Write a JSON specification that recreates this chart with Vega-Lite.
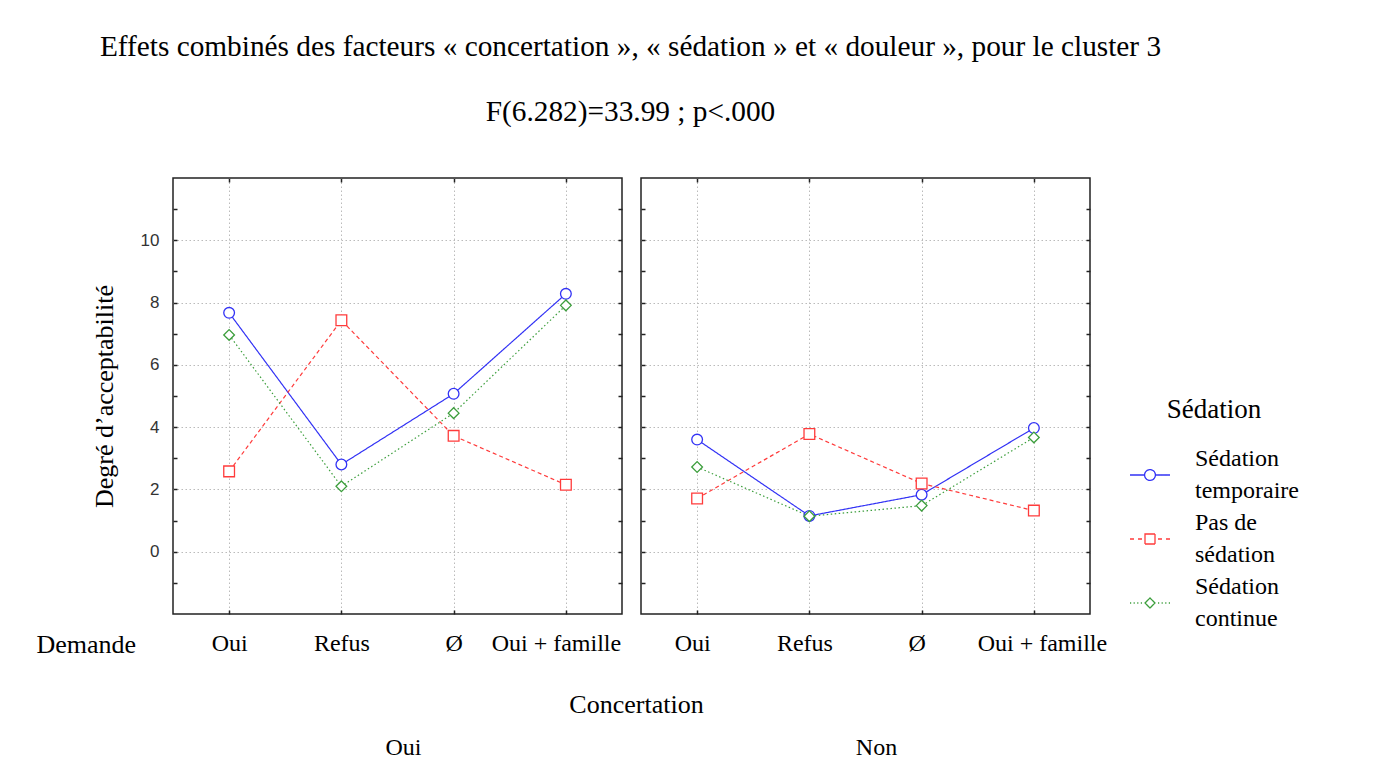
{
  "$schema": "https://vega.github.io/schema/vega-lite/v6.json",
  "padding": {"left": 35, "top": 32, "right": 5, "bottom": 5},
  "background": "white",
  "title": {
    "text": "Effets combinés des facteurs « concertation », « sédation » et « douleur », pour le cluster 3",
    "subtitle": "F(6.282)=33.99 ; p<.000",
    "font": "Liberation Serif", "fontSize": 29.3, "fontWeight": "normal", "color": "black",
    "subtitleFont": "Liberation Serif", "subtitleFontSize": 29.3, "subtitleColor": "black",
    "subtitlePadding": 36, "offset": 49, "anchor": "middle", "frame": "bounds", "dx": -37
  },
  "data": {"values": [
    {"Concertation": "Oui", "Demande": "Oui", "Sedation": "Sédation temporaire", "Degre": 7.67},
    {"Concertation": "Oui", "Demande": "Refus", "Sedation": "Sédation temporaire", "Degre": 2.8},
    {"Concertation": "Oui", "Demande": "Ø", "Sedation": "Sédation temporaire", "Degre": 5.07},
    {"Concertation": "Oui", "Demande": "Oui + famille", "Sedation": "Sédation temporaire", "Degre": 8.28},
    {"Concertation": "Oui", "Demande": "Oui", "Sedation": "Pas de sédation", "Degre": 2.58},
    {"Concertation": "Oui", "Demande": "Refus", "Sedation": "Pas de sédation", "Degre": 7.43},
    {"Concertation": "Oui", "Demande": "Ø", "Sedation": "Pas de sédation", "Degre": 3.72},
    {"Concertation": "Oui", "Demande": "Oui + famille", "Sedation": "Pas de sédation", "Degre": 2.15},
    {"Concertation": "Oui", "Demande": "Oui", "Sedation": "Sédation continue", "Degre": 6.96},
    {"Concertation": "Oui", "Demande": "Refus", "Sedation": "Sédation continue", "Degre": 2.1},
    {"Concertation": "Oui", "Demande": "Ø", "Sedation": "Sédation continue", "Degre": 4.45},
    {"Concertation": "Oui", "Demande": "Oui + famille", "Sedation": "Sédation continue", "Degre": 7.91},
    {"Concertation": "Non", "Demande": "Oui", "Sedation": "Sédation temporaire", "Degre": 3.6},
    {"Concertation": "Non", "Demande": "Refus", "Sedation": "Sédation temporaire", "Degre": 1.15},
    {"Concertation": "Non", "Demande": "Ø", "Sedation": "Sédation temporaire", "Degre": 1.83},
    {"Concertation": "Non", "Demande": "Oui + famille", "Sedation": "Sédation temporaire", "Degre": 3.97},
    {"Concertation": "Non", "Demande": "Oui", "Sedation": "Pas de sédation", "Degre": 1.71},
    {"Concertation": "Non", "Demande": "Refus", "Sedation": "Pas de sédation", "Degre": 3.78},
    {"Concertation": "Non", "Demande": "Ø", "Sedation": "Pas de sédation", "Degre": 2.19},
    {"Concertation": "Non", "Demande": "Oui + famille", "Sedation": "Pas de sédation", "Degre": 1.32},
    {"Concertation": "Non", "Demande": "Oui", "Sedation": "Sédation continue", "Degre": 2.72},
    {"Concertation": "Non", "Demande": "Refus", "Sedation": "Sédation continue", "Degre": 1.14},
    {"Concertation": "Non", "Demande": "Ø", "Sedation": "Sédation continue", "Degre": 1.48},
    {"Concertation": "Non", "Demande": "Oui + famille", "Sedation": "Sédation continue", "Degre": 3.67}
  ]},
  "bounds": "flush",
  "spacing": 19,
  "resolve": {"scale": {"color": "shared", "shape": "shared", "strokeDash": "shared"}, "legend": {"color": "independent", "shape": "independent", "strokeDash": "independent"}},
  "hconcat": [
    {
      "width": 449, "height": 436,
      "transform": [{"filter": "datum.Concertation == 'Oui'"}],
      "layer": [
        {
          "mark": {"type": "line", "strokeWidth": 1.2},
          "encoding": {
            "x": {"field": "Demande", "type": "ordinal", "sort": ["Oui", "Refus", "Ø", "Oui + famille"], "scale": {"type": "point", "padding": 0.5},
              "axis": {"orient": "bottom", "grid": true, "labelAngle": 0, "labelPadding": 21,
                "labelOffset": {"condition": {"test": "datum.value == 'Oui + famille'", "value": -10}, "value": 0},
                "title": "Oui", "titleX": 230, "titleY": 133, "titleBaseline": "middle", "titleFontSize": 24}},
            "y": {"field": "Degre", "type": "quantitative", "scale": {"domain": [-2, 12], "nice": false, "zero": false},
              "axis": {"orient": "left", "values": [-1, 0, 1, 2, 3, 4, 5, 6, 7, 8, 9, 10, 11], "grid": true,
                "gridOpacity": {"condition": {"test": "datum.value % 2 == 0 && datum.value >= 0 && datum.value <= 10", "value": 1}, "value": 0},
                "labelExpr": "datum.value % 2 == 0 && datum.value >= 0 && datum.value <= 10 ? datum.label : ''",
                "labelFont": "Liberation Sans", "labelFontSize": 17, "labelColor": "#333", "labelPadding": 18,
                "title": "Degré d’acceptabilité", "titlePadding": 23, "titleFontSize": 26}},
            "color": {"field": "Sedation", "type": "nominal", "scale": {"domain": ["Sédation temporaire", "Pas de sédation", "Sédation continue"], "range": ["#3232f5", "#ff3b3b", "#3c9e3c"]}, "legend": null},
            "strokeDash": {"field": "Sedation", "type": "nominal", "scale": {"domain": ["Sédation continue", "Sédation temporaire", "Pas de sédation"], "range": [[1.5, 2.5], [1, 0], [4, 3]]}, "legend": null}
          }
        },
        {
          "mark": {"type": "point", "size": 115, "filled": false, "fill": "white", "strokeWidth": 1.3, "opacity": 1},
          "encoding": {
            "x": {"field": "Demande", "type": "ordinal", "sort": ["Oui", "Refus", "Ø", "Oui + famille"],
              "axis": {"orient": "top", "grid": false, "labels": false, "title": "Demande", "titleX": -137, "titleY": 466, "titleAlign": "left", "titleBaseline": "middle", "titleAngle": 0, "titleFontSize": 26}},
            "y": {"field": "Degre", "type": "quantitative",
              "axis": {"orient": "right", "values": [-1, 0, 1, 2, 3, 4, 5, 6, 7, 8, 9, 10, 11], "grid": false, "labels": false, "title": null}},
            "color": {"field": "Sedation", "type": "nominal", "legend": null},
            "shape": {"field": "Sedation", "type": "nominal", "scale": {"domain": ["Pas de sédation", "Sédation temporaire", "Sédation continue"], "range": ["square", "circle", "diamond"]}, "legend": null}
          }
        }
      ],
      "resolve": {"axis": {"x": "independent", "y": "independent"}}
    },
    {
      "width": 449, "height": 436,
      "transform": [{"filter": "datum.Concertation == 'Non'"}],
      "layer": [
        {
          "mark": {"type": "line", "strokeWidth": 1.2},
          "encoding": {
            "x": {"field": "Demande", "type": "ordinal", "sort": ["Oui", "Refus", "Ø", "Oui + famille"], "scale": {"type": "point", "padding": 0.5},
              "axis": {"orient": "bottom", "grid": true, "labelAngle": 0, "labelPadding": 21,
                "labelOffset": {"condition": {"test": "datum.value == 'Oui + famille'", "value": 8}, "value": -5},
                "title": "Non", "titleX": 235, "titleY": 133, "titleBaseline": "middle", "titleFontSize": 24}},
            "y": {"field": "Degre", "type": "quantitative", "scale": {"domain": [-2, 12], "nice": false, "zero": false},
              "axis": {"orient": "left", "values": [-1, 0, 1, 2, 3, 4, 5, 6, 7, 8, 9, 10, 11], "grid": true,
                "gridOpacity": {"condition": {"test": "datum.value % 2 == 0 && datum.value >= 0 && datum.value <= 10", "value": 1}, "value": 0},
                "labels": false, "title": null}},
            "color": {"field": "Sedation", "type": "nominal",
              "legend": {
                "orient": "none", "legendX": 488, "legendY": 219,
                "title": "Sédation", "titleFont": "Liberation Serif", "titleFontSize": 27, "titleFontWeight": "normal", "titleColor": "black", "titleAnchor": "middle", "titlePadding": 30,
                "labelFont": "Liberation Serif", "labelFontSize": 24, "labelColor": "black", "labelLimit": 300, "labelOffset": 24,
                "labelExpr": "datum.label == 'Pas de sédation' ? ['Pas de', 'sédation'] : datum.label == 'Sédation temporaire' ? ['Sédation', 'temporaire'] : ['Sédation', 'continue']",
                "symbolSize": 1600, "symbolStrokeWidth": 1.3, "rowPadding": 8,
                "encode": {
                  "symbols": {"update": {
                    "shape": {"signal": "datum.value == 'Sédation temporaire' ? 'M-1,0L-0.27,0M0.27,0L1,0M-0.27,0A0.27,0.27 0 1,1 0.27,0A0.27,0.27 0 1,1 -0.27,0' : datum.value == 'Pas de sédation' ? 'M-1,0L-0.8,0M-0.6,0L-0.4,0M0.4,0L0.6,0M0.8,0L1,0M-0.25,-0.25L0.25,-0.25L0.25,0.25L-0.25,0.25Z' : 'M-1,0L-0.94,0M-0.82,0L-0.76,0M-0.64,0L-0.58,0M-0.46,0L-0.4,0M0.4,0L0.46,0M0.58,0L0.64,0M0.76,0L0.82,0M0.94,0L1,0M0,-0.25L0.25,0L0,0.25L-0.25,0Z'"},
                    "fill": {"value": "white"},
                    "strokeDash": {"value": [1, 0]},
                    "opacity": {"value": 1}
                  }},
                  "labels": {"update": {"lineHeight": {"value": 32}, "dy": {"value": -16}}}
                }
              }},
            "strokeDash": {"field": "Sedation", "type": "nominal", "legend": null}
          }
        },
        {
          "mark": {"type": "point", "size": 115, "filled": false, "fill": "white", "strokeWidth": 1.3, "opacity": 1},
          "encoding": {
            "x": {"field": "Demande", "type": "ordinal", "sort": ["Oui", "Refus", "Ø", "Oui + famille"],
              "axis": {"orient": "top", "grid": false, "labels": false, "title": "Concertation", "titleX": -5, "titleY": 526, "titleBaseline": "middle", "titleAngle": 0, "titleFontSize": 26}},
            "y": {"field": "Degre", "type": "quantitative",
              "axis": {"orient": "right", "values": [-1, 0, 1, 2, 3, 4, 5, 6, 7, 8, 9, 10, 11], "grid": false, "labels": false, "title": null}},
            "color": {"field": "Sedation", "type": "nominal"},
            "shape": {"field": "Sedation", "type": "nominal", "legend": null}
          }
        }
      ],
      "resolve": {"axis": {"x": "independent", "y": "independent"}}
    }
  ],
  "config": {
    "view": {"stroke": "#222", "strokeWidth": 1.5},
    "axis": {
      "domain": false, "ticks": true, "tickSize": -4, "tickColor": "#222", "tickWidth": 1.5,
      "gridColor": "#bbbbbb", "gridDash": [1.5, 2.5], "gridWidth": 1,
      "labelFont": "Liberation Serif", "labelFontSize": 24, "labelColor": "black",
      "titleFont": "Liberation Serif", "titleFontSize": 25, "titleFontWeight": "normal", "titleColor": "black"
    }
  }
}
